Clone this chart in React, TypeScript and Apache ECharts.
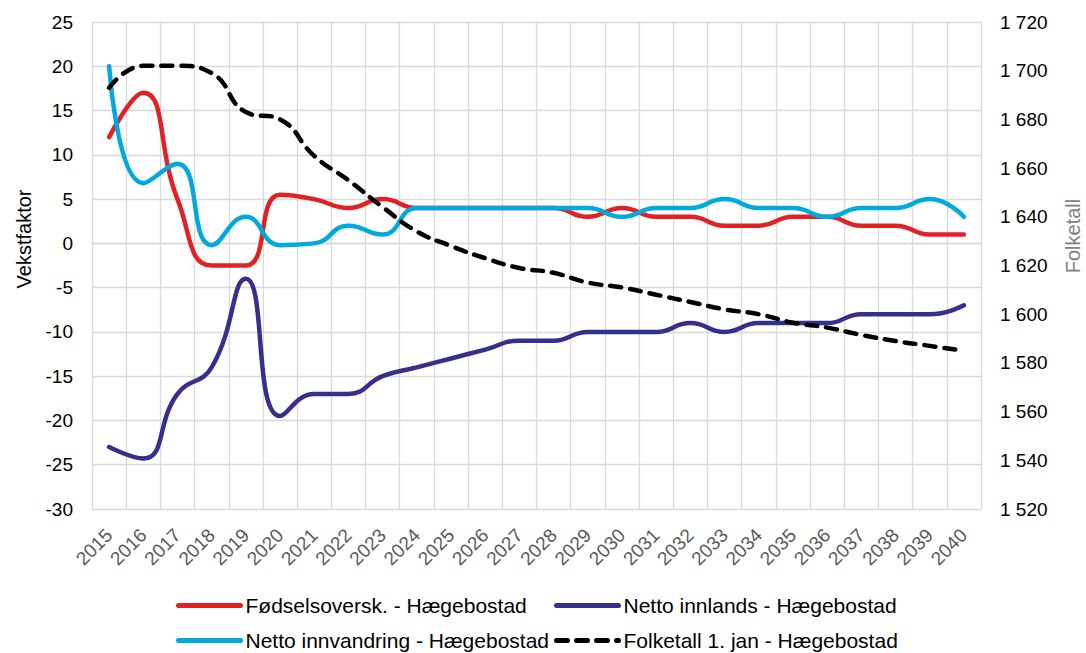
import React, { useEffect, useRef } from "react";
import * as echarts from "echarts";

const years = ["2015","2016","2017","2018","2019","2020","2021","2022","2023","2024","2025","2026","2027","2028","2029","2030","2031","2032","2033","2034","2035","2036","2037","2038","2039","2040"];

const fodselsoverskudd = [12, 17, 5, -2.5, -2.5, 5.5, 5, 4, 5, 4, 4, 4, 4, 4, 3, 4, 3, 3, 2, 2, 3, 3, 2, 2, 1, 1];
const nettoInnlands = [-23, -24.3, -17, -14, -4, -19.5, -17, -17, -15, -14, -13, -12, -11, -11, -10, -10, -10, -9, -10, -9, -9, -9, -8, -8, -8, -7];
const nettoInnvandring = [20, 6.8, 9, -0.2, 3, -0.2, 0, 2, 1, 4, 4, 4, 4, 4, 4, 3, 4, 4, 5, 4, 4, 3, 4, 4, 5, 3];
const folketall = [1693, 1702, 1702, 1699, 1683, 1680, 1665, 1655, 1644, 1634, 1628, 1623, 1619, 1617, 1613, 1611, 1608, 1605, 1602, 1600, 1596.5, 1594.5, 1591.5, 1589, 1587, 1585];

const seriesNames = [
  "Fødselsoversk. - Hægebostad",
  "Netto innlands - Hægebostad",
  "Netto innvandring - Hægebostad",
  "Folketall 1. jan - Hægebostad",
];

const leftTitle = "Vekstfaktor";
const rightTitle = "Folketall";

const FONT = "'Liberation Sans', Arial, sans-serif";

export default function App() {
  const ref = useRef<HTMLDivElement>(null);
  useEffect(() => {
    if (!ref.current) return;
    const chart = echarts.init(ref.current, undefined, { renderer: "svg" });
    const lineW = 4.5;
    const SMOOTH = 0.5;
    const legendBase = {
      orient: "vertical",
      top: 595,
      height: 100,
      padding: 0,
      itemWidth: 62,
      itemHeight: 14,
      itemGap: 14,
      itemStyle: { opacity: 0 },
      lineStyle: { width: 5 },
      textStyle: { fontSize: 21, color: "#000000", fontFamily: FONT },
    };
    chart.setOption({
      animation: false,
      backgroundColor: "#ffffff",
      textStyle: { fontFamily: FONT },
      grid: { left: 92, right: 105, top: 22, bottom: 144, containLabel: false },
      legend: [
        { ...legendBase, left: 176, data: [seriesNames[0], seriesNames[2]] },
        { ...legendBase, left: 554, data: [seriesNames[1], seriesNames[3]] },
      ],
      xAxis: {
        type: "category",
        data: years,
        boundaryGap: true,
        axisLine: { show: true, lineStyle: { color: "#d9d9d9", width: 1.3 } },
        axisTick: { show: false },
        splitLine: { show: true, lineStyle: { color: "#d9d9d9", width: 1.3 } },
        axisLabel: {
          interval: 0,
          rotate: 45,
          margin: 23,
          fontSize: 19,
          color: "#595959",
          fontFamily: FONT,
        },
      },
      yAxis: [
        {
          type: "value",
          min: -30,
          max: 25,
          interval: 5,
          axisLine: { show: false },
          axisTick: { show: false },
          splitLine: { show: true, lineStyle: { color: "#d9d9d9", width: 1.3 } },
          axisLabel: { fontSize: 19, color: "#000000", margin: 19, fontFamily: FONT },
        },
        {
          type: "value",
          min: 1520,
          max: 1720,
          interval: 20,
          position: "right",
          axisLine: { show: false },
          axisTick: { show: false },
          splitLine: { show: false },
          axisLabel: {
            fontSize: 19,
            color: "#000000",
            margin: 19,
            fontFamily: FONT,
            formatter: (v: number) => String(v).replace(/\B(?=(\d{3})+(?!\d))/g, " "),
          },
        },
      ],
      graphic: [
        {
          type: "text",
          x: 24,
          y: 239,
          rotation: Math.PI / 2,
          style: {
            text: leftTitle,
            fontSize: 20,
            fontFamily: FONT,
            fill: "#000000",
            align: "center",
            verticalAlign: "middle",
          },
        },
        {
          type: "text",
          x: 1073,
          y: 236,
          rotation: Math.PI / 2,
          style: {
            text: rightTitle,
            fontSize: 20,
            fontFamily: FONT,
            fill: "#7f7f7f",
            align: "center",
            verticalAlign: "middle",
          },
        },
      ],
      series: [
        {
          name: seriesNames[0],
          type: "line",
          data: fodselsoverskudd,
          smooth: SMOOTH,
          showSymbol: false,
          symbol: "none",
          color: "#E32024",
          lineStyle: { width: lineW, color: "#E32024", cap: "round" },
          z: 3,
        },
        {
          name: seriesNames[1],
          type: "line",
          data: nettoInnlands,
          smooth: SMOOTH,
          showSymbol: false,
          symbol: "none",
          color: "#35308C",
          lineStyle: { width: lineW, color: "#35308C", cap: "round" },
          z: 3,
        },
        {
          name: seriesNames[2],
          type: "line",
          data: nettoInnvandring,
          smooth: SMOOTH,
          showSymbol: false,
          symbol: "none",
          color: "#00A9DE",
          lineStyle: { width: lineW, color: "#00A9DE", cap: "round" },
          z: 4,
        },
        {
          name: seriesNames[3],
          type: "line",
          yAxisIndex: 1,
          data: folketall,
          smooth: SMOOTH,
          showSymbol: false,
          symbol: "none",
          color: "#000000",
          lineStyle: { width: lineW, color: "#000000", type: [11, 9], cap: "round" },
          z: 5,
        },
      ],
    });
    return () => chart.dispose();
  }, []);
  return (
    <div
      ref={ref}
      style={{ position: "absolute", left: 0, top: 0, width: 1086, height: 653 }}
    />
  );
}
